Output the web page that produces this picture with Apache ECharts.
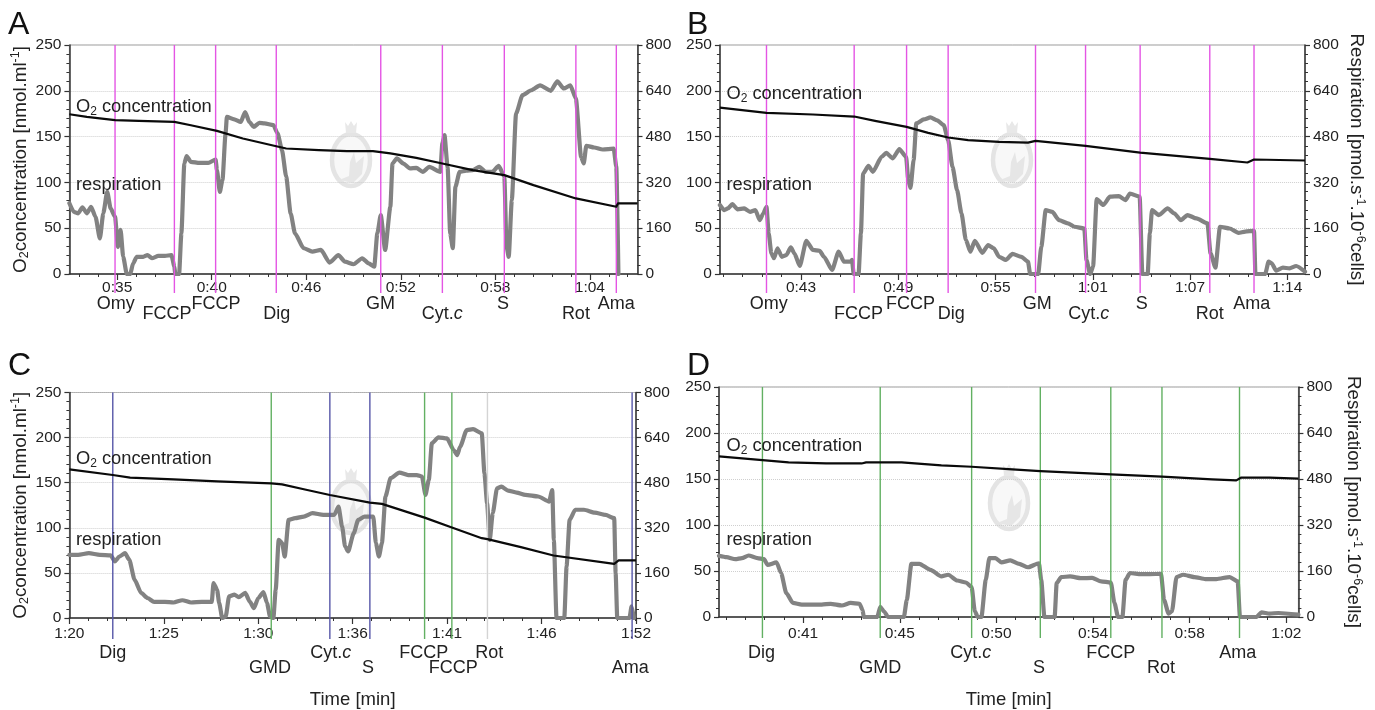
<!DOCTYPE html>
<html><head><meta charset="utf-8">
<style>html,body{margin:0;padding:0;background:#fff}#c{width:1375px;height:710px}</style>
<script src="https://cdn.jsdelivr.net/npm/echarts@6/dist/echarts.min.js"></script>
</head><body><div id="c"></div>
<script>
// ---------- data: times in minutes, O2 in nmol/ml, respiration in pmol/s/10^6 cells ----------
const aTickTimes=[35,40.8,46.6,52.4,58.2,64];
const aTickLabels=['0:35','0:40','0:46','0:52','0:58','1:04'];
const aEventNames=['Omy','FCCP','FCCP','Dig','GM','Cyt.{i|c}','S','Rot','Ama'];
const aEventTimes=[34.87,38.51,41.04,44.76,51.17,54.95,58.75,63.14,65.62];
const aLabelTimes=[34.92,38.06,41.06,44.79,51.15,54.95,58.67,63.14,65.62];
const aO2Times=[32.07,33.14,34.87,36.33,38.51,39.52,41.12,42.71,44.76,45.37,47.37,49.10,50.69,51.76,53.35,54.95,56.81,58.75,60.54,63.14,65.62,65.72,66.92];
const aO2Values=[174.4,171.5,167.9,167.2,166.1,162.4,156.3,147.9,139.5,137,135.2,134.1,134.1,131.6,126.8,120.6,113.4,107.9,97,82.5,73.4,77,77];
const aRespTimes=[32.07,32.34,32.61,32.87,33.14,33.40,33.67,33.94,34.15,34.39,34.60,34.87,35.05,35.21,35.37,35.59,35.80,35.98,36.20,36.60,36.86,37.13,37.53,37.93,38.33,38.51,38.56,38.80,38.94,39.12,39.26,39.52,40.05,40.59,41.04,41.12,41.30,41.46,41.65,41.73,42.18,42.58,42.85,43.11,43.38,43.72,44.04,44.58,44.84,45.11,45.37,45.64,45.91,46.44,46.97,47.50,48.03,48.57,48.97,49.50,50.03,50.43,50.77,50.96,51.17,51.44,51.76,51.89,52.16,52.56,52.96,53.35,53.75,54.15,54.82,54.95,55.08,55.27,55.43,55.59,55.75,56.01,56.41,56.81,57.21,57.61,58.01,58.41,58.75,58.89,59.02,59.21,59.47,59.87,60.40,60.94,61.60,62.00,62.40,62.80,63.14,63.46,63.62,63.78,64.26,64.79,65.46,65.62,65.75];
const aRespValues=[247,217,212,233,212,235,200,124,212,287,229,200,95,154,60,0,0,37,60,60,66,55,63,63,66,26,0,0,142,386,412,392,388,388,400,363,287,328,491,549,540,531,566,531,514,528,526,520,491,433,340,212,142,90,78,84,40,66,43,34,55,37,26,142,206,84,235,386,404,386,369,371,357,374,357,456,485,374,142,90,305,357,361,363,374,357,357,378,340,95,60,258,561,625,642,659,640,673,648,659,613,409,386,448,442,435,438,374,0];

const bTickTimes=[43,49.2,55.4,61.6,67.8,74];
const bTickLabels=['0:43','0:49','0:55','1:01','1:07','1:14'];
const bEventNames=['Omy','FCCP','FCCP','Dig','GM','Cyt.{i|c}','S','Rot','Ama'];
const bEventTimes=[40.80,46.39,49.73,52.38,57.95,61.14,64.62,69.06,71.88];
const bLabelTimes=[40.94,46.67,49.98,52.58,58.06,61.34,64.73,69.06,71.74];
const bO2Times=[37.83,40.80,43.76,46.39,47.72,49.73,51.11,52.38,53.65,55.63,57.47,57.95,61.14,64.62,69.06,71.46,71.88,75.13];
const bO2Values=[181.7,175.9,174.1,171.9,167.2,160.6,154.1,149,146.1,144.3,143.5,145.4,139.9,132.6,125.7,121.7,125,123.9];
const bRespTimes=[37.83,38.11,38.34,38.62,38.96,39.38,39.75,40.09,40.37,40.60,40.80,40.94,41.11,41.28,41.50,41.78,42.07,42.35,42.58,42.92,43.34,43.76,44.19,44.47,44.98,45.40,45.74,46.17,46.25,46.36,46.67,46.82,46.96,47.30,47.58,48.14,48.43,48.85,49.27,49.70,49.84,49.98,50.18,50.35,50.83,51.25,51.68,52.10,52.38,52.66,52.95,53.23,53.51,53.80,54.08,54.56,54.93,55.29,55.63,56.06,56.48,57.05,57.47,57.61,58.12,58.32,58.60,59.02,59.45,60.01,60.44,61.06,61.20,61.43,61.62,61.85,62.27,62.70,63.26,63.69,63.97,64.59,64.76,65.10,65.24,65.38,65.81,66.37,66.79,67.22,67.64,68.21,68.91,69.11,69.42,69.71,70.33,70.89,71.32,71.88,71.97,72.59,72.81,73.01,73.29,73.72,74.14,74.57,75.13];
const bRespValues=[241,223,229,244,226,229,217,223,188,212,235,142,72,55,90,60,66,93,72,28,116,84,81,60,14,78,43,43,49,0,0,142,351,378,357,409,423,404,436,409,328,301,398,526,540,547,537,520,468,374,293,212,119,78,116,74,101,90,60,49,70,60,43,0,0,95,223,217,188,177,165,159,49,0,26,262,241,270,272,258,281,270,0,0,142,223,206,229,212,188,206,194,177,72,22,165,159,144,148,151,0,0,43,37,12,22,20,28,8];

const cTickTimes=[80,85.33,90.67,96,101.33,106.67,112];
const cTickLabels=['1:20','1:25','1:30','1:36','1:41','1:46','1:52'];
const cEventNames=['Dig','GMD','Cyt.{i|c}','S','FCCP','FCCP','Rot','Ama'];
const cEventTimes=[82.45,91.40,94.71,96.97,100.06,101.60,103.61,111.78];
const cLabelTimes=[82.45,91.33,94.76,96.87,100.01,101.68,103.71,111.68];
const cO2Times=[80,82.45,83.43,85.88,88.34,91.40,92.01,93.24,94.71,96.97,97.65,100.06,101.60,103.29,103.61,105.50,107.34,110.77,111.02,112];
const cO2Values=[164.8,158.5,155.6,153.7,151.5,149.3,148.2,142.7,136.4,127.9,126.5,111.3,100.3,88.5,87.4,78.5,69.3,60.1,63.8,63.8];
const cRespTimes=[80,80.49,81.10,81.72,82.33,82.57,82.82,83.14,83.38,83.68,84.05,84.41,84.78,85.39,85.88,86.38,86.87,87.48,88.04,88.14,88.34,88.46,88.63,88.83,89.02,89.32,89.56,89.93,90.18,90.42,90.67,90.96,91.16,91.33,91.52,91.65,91.82,92.01,92.16,92.38,92.75,93.24,93.73,94.34,94.96,95.20,95.40,95.57,95.74,96.06,96.31,96.67,97.16,97.31,97.48,97.65,97.85,98.14,98.64,99.13,99.62,99.91,100.11,100.30,100.47,100.84,101.33,101.70,101.90,102.07,102.44,102.80,103.29,103.44,103.59,103.74,103.91,104.15,104.40,104.77,105.26,105.75,106.48,107.09,107.27,107.36,107.51,107.95,108.08,108.25,108.57,109.06,109.67,110.28,110.77,110.85,110.94,111.63,111.75,111.88];
const cRespValues=[224,224,230,224,222,201,218,230,207,136,89,71,57,57,55,63,55,57,57,124,100,53,0,6,77,83,74,89,59,35,71,92,53,6,0,100,277,266,218,348,354,360,372,366,366,395,325,254,236,301,348,360,360,266,218,266,431,496,516,507,507,502,437,490,620,641,637,596,578,608,667,670,655,513,407,277,372,460,466,452,445,437,431,413,454,277,0,0,183,348,384,384,374,366,354,159,0,0,41,0];

const dTickTimes=[41,45.25,49.5,53.75,58,62.25];
const dTickLabels=['0:41','0:45','0:50','0:54','0:58','1:02'];
const dEventNames=['Dig','GMD','Cyt.{i|c}','S','FCCP','Rot','Ama'];
const dEventTimes=[39.21,44.39,48.41,51.43,54.53,56.78,60.19];
const dLabelTimes=[39.17,44.39,48.37,51.37,54.53,56.74,60.11];
const dO2Times=[37.30,39.21,40.36,42.01,43.57,43.77,45.33,47.08,48.41,50.20,51.43,54.53,56.78,58.98,60.05,60.25,61.51,62.78];
const dO2Values=[174.5,170.5,168,166.9,166.9,168,168,164.8,163.3,160.4,158.6,155,152.5,149.6,148.5,151.4,151.4,150.3];
const dRespTimes=[37.30,37.63,38.02,38.31,38.60,38.99,39.28,39.44,39.83,40.03,40.26,40.55,40.94,41.43,41.82,42.21,42.70,43.09,43.48,43.61,43.67,44.26,44.39,44.55,44.74,45.43,45.56,45.76,46.11,46.60,47.08,47.38,47.77,48.16,48.41,48.55,48.68,48.84,49.03,49.19,49.46,49.72,50.11,50.50,50.89,51.37,51.47,51.61,52.06,52.15,52.35,52.74,53.23,53.71,54.10,54.53,54.69,54.85,55.04,55.18,55.37,55.86,56.25,56.74,56.87,57.07,57.22,57.42,57.71,58.20,58.69,59.17,59.76,60.11,60.21,60.93,61.16,61.51,61.90,62.78];
const dRespValues=[213,208,201,205,214,205,201,181,190,153,83,49,43,43,43,46,40,49,46,25,0,0,35,20,0,0,60,185,185,164,141,147,127,120,104,20,0,0,129,205,205,190,197,185,173,187,129,0,0,118,139,141,135,136,124,120,49,0,0,129,153,149,149,150,60,12,20,139,147,139,132,132,139,124,0,0,16,12,14,8];

// ---------- layout and style ----------
const FONT='"Liberation Sans",Arial,Helvetica,sans-serif', INK='#222';
const MAG='#e455e4', GRN='#62b062', NVY='#5656a8', PAL='#d4d4d4';
const layouts=[
 {letter:'A',letterX:8,letterY:25,left:69.4,right:637.5,top:45,bottom:274,xMin:32.07,xMax:66.92,rows:[30,40],tickMargin:6,ext:19,o2Y:107,respY:185,textX:76,wm:[351,160],leftName:true,nameGap:38,colors:[MAG,MAG,MAG,MAG,MAG,MAG,MAG,MAG,MAG]},
 {letter:'B',letterX:687,letterY:25,left:719.9,right:1305,top:45,bottom:274,xMin:37.83,xMax:75.13,rows:[30,40],tickMargin:6,ext:19,o2Y:94,respY:185,textX:726.5,wm:[1012,160],rightName:true,nameGap:40,colors:[MAG,MAG,MAG,MAG,MAG,MAG,MAG,MAG,MAG]},
 {letter:'C',letterX:8,letterY:366,left:69.4,right:636,top:392.5,bottom:618,xMin:80,xMax:112,rows:[35,50],tickMargin:8,ext:21,o2Y:459,respY:540,textX:76,wm:[351,507],leftName:true,nameGap:38,timeName:72,colors:[NVY,GRN,NVY,NVY,GRN,GRN,PAL,NVY]},
 {letter:'D',letterX:687,letterY:366,left:719,right:1298.4,top:387,bottom:617,xMin:37.30,xMax:62.78,rows:[36,51],tickMargin:9,ext:21,o2Y:446,respY:540,textX:726.5,wm:[1009,503],rightName:true,nameGap:44,timeName:73,colors:[GRN,GRN,GRN,GRN,GRN,GRN,GRN]}
];
const panelData=[
 {ticks:aTickTimes,labels:aTickLabels,names:aEventNames,ev:aEventTimes,lab:aLabelTimes,o2t:aO2Times,o2:aO2Values,rt:aRespTimes,r:aRespValues},
 {ticks:bTickTimes,labels:bTickLabels,names:bEventNames,ev:bEventTimes,lab:bLabelTimes,o2t:bO2Times,o2:bO2Values,rt:bRespTimes,r:bRespValues},
 {ticks:cTickTimes,labels:cTickLabels,names:cEventNames,ev:cEventTimes,lab:cLabelTimes,o2t:cO2Times,o2:cO2Values,rt:cRespTimes,r:cRespValues},
 {ticks:dTickTimes,labels:dTickLabels,names:dEventNames,ev:dEventTimes,lab:dLabelTimes,o2t:dO2Times,o2:dO2Values,rt:dRespTimes,r:dRespValues}
];
const labelRows=[[0,1,0,1,0,1,0,1,0],[0,1,0,1,0,1,0,1,0],[0,1,0,1,0,1,0,1],[0,1,0,1,0,1,0]];
const richName={sub:{fontSize:12.5,verticalAlign:'bottom',lineHeight:22,fontFamily:FONT,color:INK},sup:{fontSize:12.5,verticalAlign:'top',lineHeight:22,fontFamily:FONT,color:INK}};

const grid=[],xAxis=[],yAxis=[],series=[],title=[],graphic=[];
layouts.forEach((L,i)=>{
  const D=panelData[i];
  grid.push({left:L.left,top:L.top,width:L.right-L.left,height:L.bottom-L.top,show:true,borderColor:'#9a9a9a',borderWidth:1,backgroundColor:'transparent'});
  const step=D.ticks[1]-D.ticks[0], minor=[];
  for(let v=D.ticks[0]-step;v<L.xMax;v+=step/5){ if(v>=L.xMin-1e-6) minor.push(v); }
  xAxis.push({type:'value',gridIndex:i,min:L.xMin,max:L.xMax,position:'bottom',splitLine:{show:false},
    name:L.timeName?'Time [min]':'',nameLocation:'middle',nameGap:L.timeName||20,nameTextStyle:{fontFamily:FONT,fontSize:18.5,color:INK},
    axisLine:{show:true,onZero:false,lineStyle:{color:'#333',width:1.5}},
    axisTick:{show:true,customValues:D.ticks,length:6,lineStyle:{color:'#333',width:1.2}},
    axisLabel:{show:true,customValues:D.ticks,margin:L.tickMargin,fontFamily:FONT,fontSize:15.5,color:INK,formatter:v=>D.labels[D.ticks.findIndex(t=>Math.abs(t-v)<1e-6)]}});
  xAxis.push({type:'value',gridIndex:i,min:L.xMin,max:L.xMax,position:'bottom',splitLine:{show:false},
    axisLine:{show:false,onZero:false},axisTick:{show:true,customValues:minor,length:3,lineStyle:{color:'#333',width:1}},axisLabel:{show:false}});
  yAxis.push({type:'value',gridIndex:i,min:0,max:250,interval:50,position:'left',
    name:L.leftName?'O{sub|2}concentration [nmol.ml{sup|-1}]':'',nameLocation:'middle',nameRotate:90,nameGap:L.nameGap,
    nameTextStyle:{fontFamily:FONT,fontSize:18.8,color:INK,lineHeight:22,rich:richName},
    axisLine:{show:true,lineStyle:{color:'#333',width:1.5}},axisTick:{show:true,length:5,lineStyle:{color:'#333',width:1.2}},
    minorTick:{show:true,splitNumber:5,length:3,lineStyle:{color:'#333',width:1}},
    axisLabel:{margin:8,fontFamily:FONT,fontSize:15.5,color:INK},
    splitLine:{show:true,lineStyle:{color:'#cfcfcf',type:'dotted',width:1}}});
  yAxis.push({type:'value',gridIndex:i,min:0,max:800,interval:160,position:'right',
    name:L.rightName?'Respiration [pmol.s{sup|-1}.10{sup|-6}cells]':'',nameLocation:'middle',nameRotate:-90,nameGap:L.nameGap,
    nameTextStyle:{fontFamily:FONT,fontSize:18.8,color:INK,lineHeight:22,rich:richName},
    axisLine:{show:true,lineStyle:{color:'#333',width:1.5}},axisTick:{show:true,length:5,lineStyle:{color:'#333',width:1.2}},
    minorTick:{show:true,splitNumber:5,length:3,lineStyle:{color:'#333',width:1}},
    axisLabel:{margin:8,fontFamily:FONT,fontSize:15.5,color:INK},splitLine:{show:false}});
  series.push({type:'line',name:'respiration',xAxisIndex:i*2,yAxisIndex:i*2+1,data:D.rt.map((t,k)=>[t,D.r[k]]),showSymbol:false,symbol:'none',
    smooth:0.2,smoothMonotone:'x',z:2,clip:true,lineStyle:{color:'#828282',width:4.2,join:'round',cap:'round'},animation:false});
  series.push({type:'custom',xAxisIndex:i*2,yAxisIndex:i*2,z:3,silent:true,clip:false,animation:false,
    encode:{x:0},data:D.ev.map((t,k)=>[t,D.lab[k],labelRows[i][k]]),
    renderItem(params,api){
      const k=params.dataIndex, t=api.value(0), lt=api.value(1), row=api.value(2);
      const a=api.coord([t,250]), b=api.coord([t,0]), l=api.coord([lt,0]);
      return {type:'group',children:[
        {type:'line',shape:{x1:a[0],y1:a[1],x2:b[0],y2:b[1]+L.ext},style:{stroke:L.colors[k],lineWidth:1.4}},
        {type:'text',style:{x:l[0],y:b[1]+L.rows[row],text:D.names[k],align:'center',verticalAlign:'middle',fontFamily:FONT,fontSize:18,fill:INK,
           rich:{i:{fontStyle:'italic',fontFamily:FONT,fontSize:18,fill:INK}}}}
      ]};
    }});
  series.push({type:'line',name:'O2 concentration',xAxisIndex:i*2,yAxisIndex:i*2,data:D.o2t.map((t,k)=>[t,D.o2[k]]),showSymbol:false,symbol:'none',
    z:4,lineStyle:{color:'#0a0a0a',width:2.2,join:'round'},animation:false});
  title.push({text:L.letter,padding:0,left:L.letterX,top:L.letterY-16,textStyle:{fontFamily:FONT,fontSize:32,fontWeight:'normal',color:'#111',lineHeight:32}});
  title.push({text:'O{sub|2} concentration',padding:0,left:L.textX,top:L.o2Y-11,textStyle:{fontFamily:FONT,fontSize:18.3,fontWeight:'normal',color:INK,lineHeight:22,
     rich:{sub:{fontSize:12,verticalAlign:'bottom',lineHeight:22,fontFamily:FONT,color:INK}}}});
  title.push({text:'respiration',padding:0,left:L.textX,top:L.respY-11,textStyle:{fontFamily:FONT,fontSize:18.3,fontWeight:'normal',color:INK,lineHeight:22}});
  const [wx,wy]=L.wm;
  graphic.push({type:'group',x:wx,y:wy,silent:true,z:-1,children:[
    {type:'ellipse',shape:{cx:0,cy:0,rx:19,ry:26},style:{fill:'#f8f8f8',stroke:'#e4e4e4',lineWidth:4.5}},
    {type:'polygon',shape:{points:[[-6,-38],[-3,-34],[0,-39],[3,-34],[6,-38],[5,-27],[-5,-27]]},style:{fill:'#e8e8e8'}},
    {type:'polygon',shape:{points:[[-12,20],[-2,16],[-1,2],[3,-8],[5,3],[13,-4],[11,14],[2,23]]},style:{fill:'#e6e6e6'}}
  ]});
});
const chart=echarts.init(document.getElementById('c'),null,{renderer:'canvas',width:1375,height:710});
chart.setOption({animation:false,backgroundColor:'#fff',title,grid,xAxis,yAxis,series,graphic:{elements:graphic},tooltip:{show:false},legend:{show:false}});
</script></body></html>
